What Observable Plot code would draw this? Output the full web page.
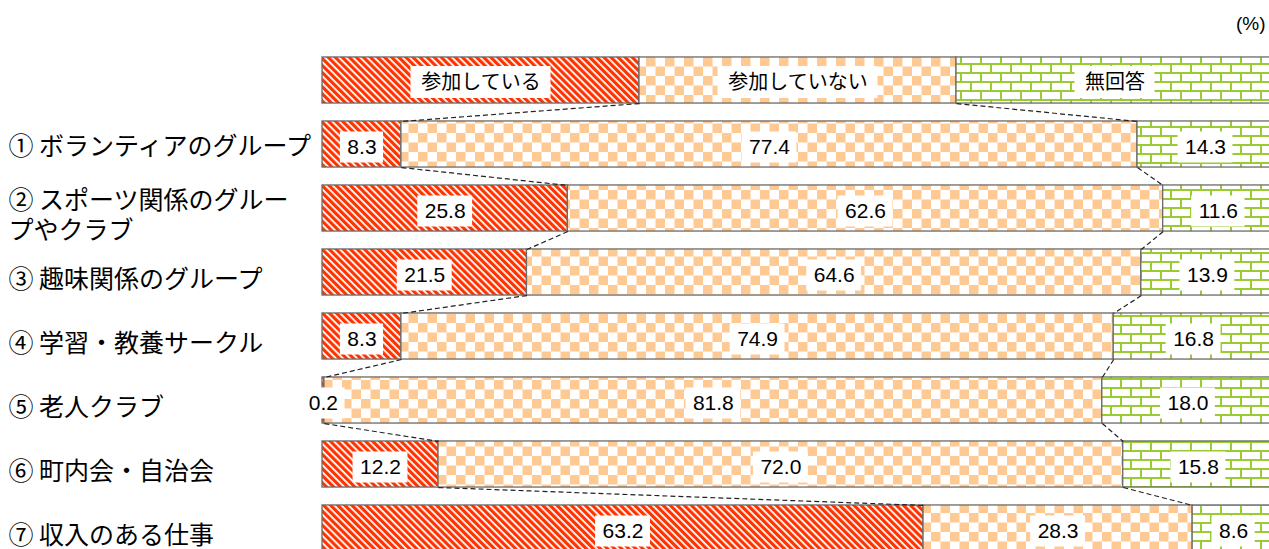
<!DOCTYPE html>
<html>
<head>
<meta charset="utf-8">
<script src="https://cdn.jsdelivr.net/npm/d3@7"></script>
<script src="https://cdn.jsdelivr.net/npm/@observablehq/plot@0.6"></script>
<style>
  body { margin: 0; background: #fff; }
  #chart svg { display: block; }
</style>
</head>
<body>
<div id="chart"></div>
<script>
// ---- data ----
const categories = [
  "① ボランティアのグループ",
  "② スポーツ関係のグルー\nプやクラブ",
  "③ 趣味関係のグループ",
  "④ 学習・教養サークル",
  "⑤ 老人クラブ",
  "⑥ 町内会・自治会",
  "⑦ 収入のある仕事"
];
const seriesNames = ["参加している", "参加していない", "無回答"];
const participating    = [8.3, 25.8, 21.5, 8.3, 0.2, 12.2, 63.2];
const notParticipating = [77.4, 62.6, 64.6, 74.9, 81.8, 72.0, 28.3];
const noAnswer         = [14.3, 11.6, 13.9, 16.8, 18.0, 15.8, 8.6];
const legendShares     = [100 / 3, 100 / 3, 100 / 3];
const unitLabel = "(%)";

// ---- derived tables ----
const patternIds = ["pat-red", "pat-check", "pat-brick"];
const H = 0.36; // half bar thickness in row units
const seriesValues = [participating, notParticipating, noAnswer];
const rows = [{i: 0, legend: true, values: legendShares}].concat(
  categories.map((c, k) => ({i: k + 1, legend: false, label: c, values: seriesValues.map(s => s[k])}))
);
const segments = [];
rows.forEach(r => {
  let acc = 0;
  r.cum = [];
  r.values.forEach((v, j) => {
    segments.push({
      row: r.i, series: j, x1: acc, x2: acc + v, mid: acc + v / 2,
      y1: r.i - H, y2: r.i + H,
      text: r.legend ? seriesNames[j] : v.toFixed(1), legend: r.legend
    });
    acc += v;
    r.cum.push(acc);
  });
});
const links = [];
for (let k = 0; k < rows.length - 1; k++) {
  for (let b = 0; b < 2; b++) {
    links.push({x1: rows[k].cum[b], y1: rows[k].i + H, x2: rows[k + 1].cum[b], y2: rows[k + 1].i - H});
  }
}

const valueFont = {size: 21, family: "'Liberation Sans', Arial, sans-serif", padX: 7, boxH: 31, dy: 3};
const legendFont = {size: 20, family: "'Noto Sans CJK JP', sans-serif", padX: 10, boxH: 32, dy: 2};
const labelFont = "'Noto Sans CJK JP', sans-serif";

// ---- pattern defs ----
function defs() {
  const d = d3.create("svg:defs");
  const red = d.append("pattern").attr("id", "pat-red").attr("patternUnits", "userSpaceOnUse")
    .attr("width", 5).attr("height", 5).attr("patternTransform", "rotate(-45)");
  red.append("rect").attr("width", 5).attr("height", 5).attr("fill", "#ffffff");
  red.append("rect").attr("width", 3.2).attr("height", 5).attr("fill", "#ff3300");

  const chk = d.append("pattern").attr("id", "pat-check").attr("patternUnits", "userSpaceOnUse")
    .attr("width", 19).attr("height", 19);
  chk.append("rect").attr("width", 19).attr("height", 19).attr("fill", "#ffffff");
  chk.append("rect").attr("width", 9.5).attr("height", 9.5).attr("fill", "#ffc993");
  chk.append("rect").attr("x", 9.5).attr("y", 9.5).attr("width", 9.5).attr("height", 9.5).attr("fill", "#ffc993");

  const brk = d.append("pattern").attr("id", "pat-brick").attr("patternUnits", "userSpaceOnUse")
    .attr("width", 20).attr("height", 18);
  brk.append("rect").attr("width", 20).attr("height", 18).attr("fill", "#ffffff");
  brk.append("path").attr("d", "M0 1H20M0 10H20M1 0V10M11 10V18")
    .attr("stroke", "#99cc33").attr("stroke-width", 2).attr("fill", "none");
  return d.node();
}

// ---- white label boxes (sized from measured text, placed through the scales) ----
function boxes(index, scales) {
  const ctx = document.createElement("canvas").getContext("2d");
  const g = d3.create("svg:g");
  for (const s of segments) {
    const f = s.legend ? legendFont : valueFont;
    ctx.font = `${f.size}px ${f.family}`;
    const w = ctx.measureText(s.text).width + 2 * f.padX;
    const cx = scales.x(s.mid), cy = scales.y(s.row) + f.dy;
    g.append("rect").attr("x", cx - w / 2).attr("y", cy - f.boxH / 2)
      .attr("width", w).attr("height", f.boxH).attr("fill", "#ffffff");
  }
  return g.node();
}

const labelRows = rows.filter(r => !r.legend);

const plot = Plot.plot({
  width: 1269,
  height: 549,
  marginLeft: 0, marginRight: 0, marginTop: 0, marginBottom: 0,
  x: {domain: [0, 100], range: [322, 1273], axis: null},
  y: {domain: [0, 7], range: [80, 528], axis: null},
  marks: [
    defs,
    ...patternIds.map((p, j) => Plot.rect(segments.filter(d => d.series === j), {
      x1: "x1", x2: "x2", y1: "y1", y2: "y2",
      fill: `url(#${p})`, stroke: "#6b6b6b", strokeWidth: 1.3
    })),
    Plot.link(links, {x1: "x1", y1: "y1", x2: "x2", y2: "y2",
      stroke: "#222", strokeWidth: 1.2, strokeDasharray: "5,3"}),
    boxes,
    Plot.text(segments.filter(d => !d.legend), {
      x: "mid", y: "row", text: "text", dy: valueFont.dy,
      fontSize: valueFont.size, fontFamily: valueFont.family, fill: "#000"
    }),
    Plot.text(segments.filter(d => d.legend), {
      x: "mid", y: "row", text: "text", dy: legendFont.dy,
      fontSize: legendFont.size, fontFamily: legendFont.family, fill: "#000"
    }),
    Plot.text(labelRows.slice(0, 1), {
      y: "i", text: "label", frameAnchor: "left", textAnchor: "start",
      dx: 8, dy: 1, fontSize: 25, lineHeight: 1.2, fontFamily: labelFont, fill: "#000"
    }),
    Plot.text(labelRows.slice(1), {
      y: "i", text: "label", frameAnchor: "left", textAnchor: "start",
      dx: 8, dy: 6, fontSize: 25, lineHeight: 1.2, fontFamily: labelFont, fill: "#000"
    }),
    Plot.text([unitLabel], {
      text: d => d, frameAnchor: "top-right", textAnchor: "end", lineAnchor: "middle",
      dx: -4, dy: 23, fontSize: 19, fontFamily: "'Liberation Sans', Arial, sans-serif", fill: "#000"
    })
  ]
});
document.getElementById("chart").appendChild(plot);
</script>
</body>
</html>
